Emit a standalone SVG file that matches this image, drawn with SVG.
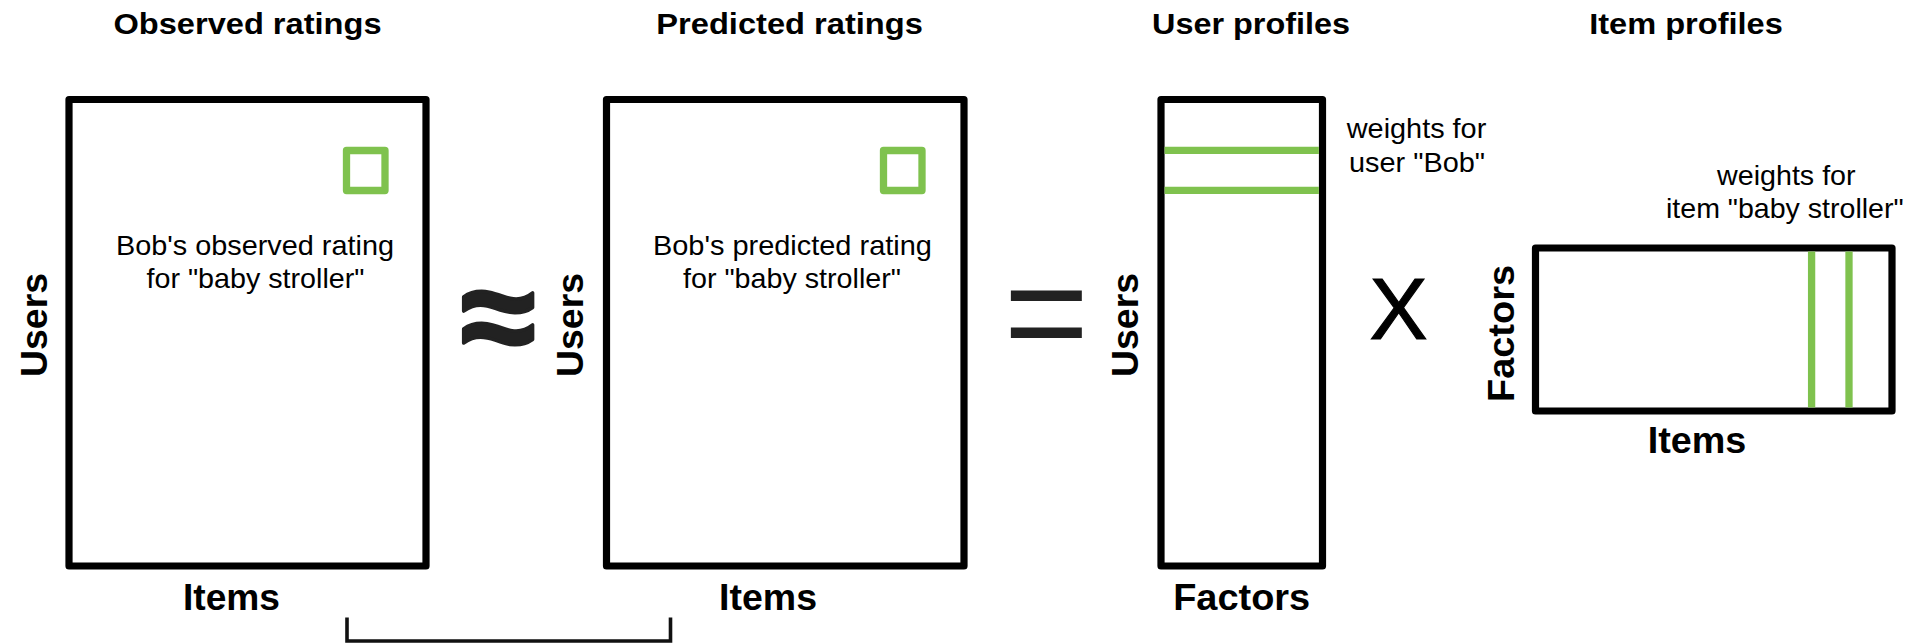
<svg xmlns="http://www.w3.org/2000/svg" width="1916" height="643" viewBox="0 0 1916 643">
  <style>
    .frame { fill: none; stroke: #000; stroke-width: 7.2; stroke-linejoin: round; }
    .mark { fill: none; stroke: #7fc24e; stroke-width: 7.3; stroke-linejoin: round; }
    .title { font-family: "Liberation Sans", Arial, sans-serif; font-weight: bold; font-size: 29px; fill: #000; text-anchor: middle; }
    .axis { font-family: "Liberation Sans", Arial, sans-serif; font-weight: bold; font-size: 37px; fill: #000; text-anchor: middle; }
    .note { font-family: "Liberation Sans", Arial, sans-serif; font-size: 28.5px; fill: #000; text-anchor: middle; }
    .op { font-family: "Liberation Sans", Arial, sans-serif; fill: #222; text-anchor: middle; }
  </style>
  <rect width="1916" height="643" fill="#fff"/>

  <!-- observed ratings matrix -->
  <g id="observed">
    <text class="title" x="247.5" y="34" textLength="268" lengthAdjust="spacingAndGlyphs">Observed ratings</text>
    <rect class="frame" x="69" y="99.5" width="357" height="466.5"/>
    <rect class="mark" x="346.5" y="150.5" width="38.5" height="40"/>
    <text class="note" x="255" y="255" textLength="278" lengthAdjust="spacingAndGlyphs">Bob's observed rating</text>
    <text class="note" x="255.5" y="288" textLength="218" lengthAdjust="spacingAndGlyphs">for "baby stroller"</text>
    <text class="axis" transform="translate(47,325) rotate(-90)" textLength="104" lengthAdjust="spacingAndGlyphs">Users</text>
    <text class="axis" x="231.5" y="610" textLength="97" lengthAdjust="spacingAndGlyphs">Items</text>
  </g>

  <!-- predicted ratings matrix -->
  <g id="predicted">
    <text class="title" x="789.6" y="34" textLength="266.6" lengthAdjust="spacingAndGlyphs">Predicted ratings</text>
    <rect class="frame" x="606.5" y="99.5" width="357.5" height="466.5"/>
    <rect class="mark" x="883.5" y="150.5" width="38.5" height="40"/>
    <text class="note" x="792.4" y="255" textLength="279" lengthAdjust="spacingAndGlyphs">Bob's predicted rating</text>
    <text class="note" x="792" y="288" textLength="218" lengthAdjust="spacingAndGlyphs">for "baby stroller"</text>
    <text class="axis" transform="translate(583,325) rotate(-90)" textLength="104" lengthAdjust="spacingAndGlyphs">Users</text>
    <text class="axis" x="768" y="610" textLength="98" lengthAdjust="spacingAndGlyphs">Items</text>
  </g>

  <!-- user profile matrix -->
  <g id="user-profiles">
    <text class="title" x="1251" y="34" textLength="198" lengthAdjust="spacingAndGlyphs">User profiles</text>
    <rect class="frame" x="1161" y="99.5" width="161.5" height="466.5"/>
    <line class="mark" x1="1164.6" y1="150.4" x2="1318.9" y2="150.4"/>
    <line class="mark" x1="1164.6" y1="190.4" x2="1318.9" y2="190.4"/>
    <text class="note" x="1416.5" y="138" textLength="139.5" lengthAdjust="spacingAndGlyphs">weights for</text>
    <text class="note" x="1417" y="171.7" textLength="136" lengthAdjust="spacingAndGlyphs">user "Bob"</text>
    <text class="axis" transform="translate(1138,325) rotate(-90)" textLength="104" lengthAdjust="spacingAndGlyphs">Users</text>
    <text class="axis" x="1241.7" y="610" textLength="137" lengthAdjust="spacingAndGlyphs">Factors</text>
  </g>

  <!-- item profile matrix -->
  <g id="item-profiles">
    <text class="title" x="1686" y="34" textLength="193.6" lengthAdjust="spacingAndGlyphs">Item profiles</text>
    <rect class="frame" x="1535.5" y="248" width="356.5" height="163"/>
    <line class="mark" x1="1811.6" y1="251.6" x2="1811.6" y2="407.4"/>
    <line class="mark" x1="1849" y1="251.6" x2="1849" y2="407.4"/>
    <text class="note" x="1786.3" y="185" textLength="138.6" lengthAdjust="spacingAndGlyphs">weights for</text>
    <text class="note" x="1784.8" y="218.3" textLength="237.6" lengthAdjust="spacingAndGlyphs">item "baby stroller"</text>
    <text class="axis" transform="translate(1514,333.5) rotate(-90)" textLength="137" lengthAdjust="spacingAndGlyphs">Factors</text>
    <text class="axis" x="1697" y="453.3" textLength="98.6" lengthAdjust="spacingAndGlyphs">Items</text>
  </g>

  <!-- operators between the matrices -->
  <g id="operators">
    <text class="op" x="498" y="363" font-size="136" font-weight="bold" stroke="#222" stroke-width="3.5" stroke-linejoin="round">≈</text>
    <text class="op" x="1046.5" y="363" font-size="146">=</text>
    <text class="op" x="1398.5" y="339.3" font-size="87" style="fill:#000" stroke="#000" stroke-width="1.2">X</text>
  </g>

  <!-- bracket under the two rating matrices -->
  <g id="connectors">
    <path d="M347,617.5 V641 H670.5 V617.5" fill="none" stroke="#111" stroke-width="3.6"/>
  </g>
</svg>
